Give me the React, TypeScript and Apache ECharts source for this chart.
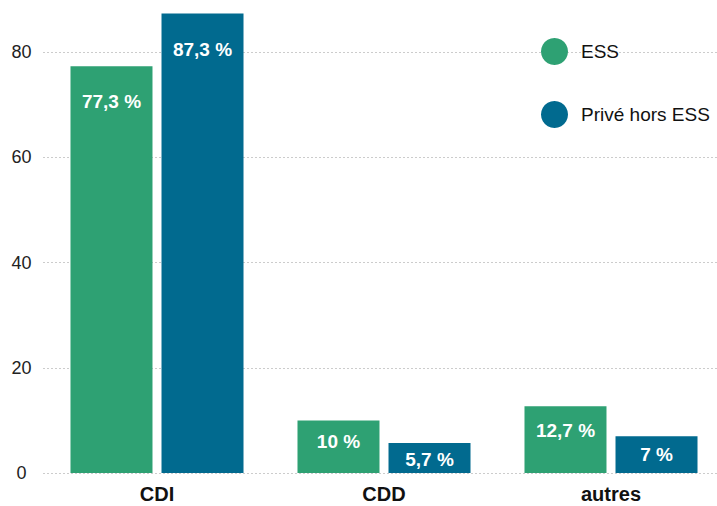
import React, { useEffect, useRef } from "react";
import * as echarts from "echarts";

const categories = ["CDI", "CDD", "autres"];
const seriesNames = ["ESS", "Privé hors ESS"];
const essValues = [77.3, 10, 12.7];
const priveValues = [87.3, 5.7, 7];
const yTicks = [0, 20, 40, 60, 80];

const GREEN = "#2ea173";
const BLUE = "#016a8f";
const FONT = "'Liberation Sans', Arial, sans-serif";

const fmt = (v: number) => String(v).replace(".", ",") + " %";

const mkData = (vals: number[]) =>
  vals.map((v) => ({
    value: v,
    label: { distance: Math.min(26, v * 1.05 + 1) },
  }));

const barLabel = {
  show: true,
  position: "insideTop",
  color: "#fff",
  fontWeight: "bold",
  fontSize: 19,
  fontFamily: FONT,
  formatter: (p: any) => fmt(p.value),
};

export default function App() {
  const ref = useRef<HTMLDivElement>(null);
  useEffect(() => {
    document.body.style.margin = "0";
    const chart = echarts.init(ref.current!, null, { renderer: "svg" });
    chart.setOption({
      animation: false,
      backgroundColor: "#ffffff",
      textStyle: { fontFamily: FONT },
      legend: {
        orient: "vertical",
        left: 536,
        top: 33,
        itemGap: 36,
        icon: "circle",
        itemWidth: 27,
        itemHeight: 27,
        textStyle: { fontSize: 19, color: "#111", fontFamily: FONT, padding: [0, 0, 0, 8] },
        data: seriesNames,
      },
      grid: { left: 43.5, width: 681, top: 52, bottom: 33, outerBoundsMode: "none", containLabel: false },
      xAxis: {
        type: "category",
        data: categories,
        axisLine: { show: false },
        axisTick: { show: false },
        axisLabel: {
          fontSize: 20,
          fontWeight: "bold",
          color: "#111",
          fontFamily: FONT,
          margin: 11,
        },
      },
      yAxis: {
        type: "value",
        min: 0,
        max: 80,
        interval: 20,
        axisLine: { show: false },
        axisTick: { show: false },
        axisLabel: {
          fontSize: 18,
          color: "#222",
          align: "center",
          margin: 22,
          fontFamily: FONT,
          formatter: (v: number) => (yTicks.includes(v) ? String(v) : ""),
        },
        splitLine: { lineStyle: { type: [1, 3], color: "#999", width: 1 } },
      },
      series: [
        {
          name: seriesNames[0],
          type: "bar",
          clip: false,
          data: mkData(essValues),
          barWidth: 82,
          barGap: "11%",
          itemStyle: { color: GREEN },
          label: barLabel,
        },
        {
          name: seriesNames[1],
          type: "bar",
          clip: false,
          data: mkData(priveValues),
          barWidth: 82,
          barGap: "11%",
          itemStyle: { color: BLUE },
          label: barLabel,
        },
      ],
    });
    return () => chart.dispose();
  }, []);
  return <div ref={ref} style={{ width: 717, height: 506 }} />;
}
